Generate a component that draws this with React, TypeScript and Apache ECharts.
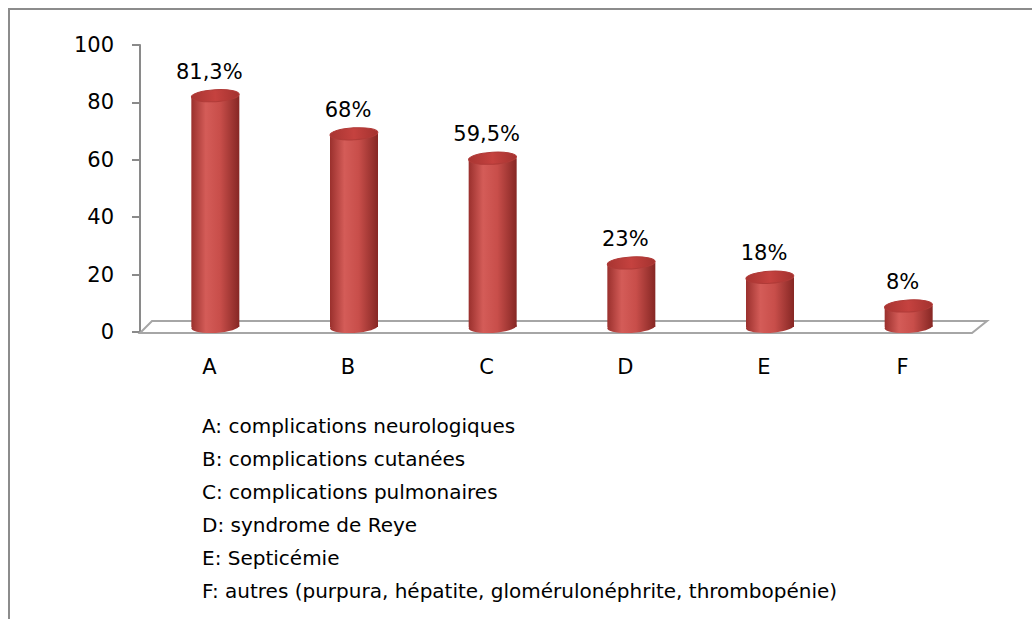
import React, { useEffect, useRef } from "react";
import * as echarts from "echarts";

const categories = ["A", "B", "C", "D", "E", "F"];
const values = [81.3, 68, 59.5, 23, 18, 8];
const valueLabels = ["81,3%", "68%", "59,5%", "23%", "18%", "8%"];
const legendLines = [
  "A: complications neurologiques",
  "B: complications cutanées",
  "C: complications pulmonaires",
  "D: syndrome de Reye",
  "E: Septicémie",
  "F: autres (purpura, hépatite, glomérulonéphrite, thrombopénie)",
];
const yTicks = [0, 20, 40, 60, 80, 100];

const FONT = "DejaVu Sans";
const FS = 21;

export default function App() {
  const ref = useRef<HTMLDivElement>(null);
  useEffect(() => {
    if (!ref.current) return;
    const chart = echarts.init(ref.current, null, { renderer: "svg" });
    const bodyGrad = () =>
      new echarts.graphic.LinearGradient(0, 0, 1, 0, [
        { offset: 0, color: "#9a302d" },
        { offset: 0.3, color: "#d45c58" },
        { offset: 0.6, color: "#c84e4a" },
        { offset: 1, color: "#862724" },
      ]);
    const option: any = {
      animation: false,
      backgroundColor: "#ffffff",
      grid: { left: 140, right: 60, top: 45, bottom: 287, containLabel: false },
      xAxis: {
        type: "category",
        data: categories,
        axisLine: { show: false },
        axisTick: { show: false },
        axisLabel: { color: "#000", fontFamily: FONT, fontSize: FS, margin: 24 },
      },
      yAxis: {
        type: "value",
        min: yTicks[0],
        max: yTicks[yTicks.length - 1],
        interval: 20,
        axisLine: { show: true, lineStyle: { color: "#8a8a8a", width: 2 } },
        axisTick: { show: true, length: 8, lineStyle: { color: "#8a8a8a", width: 2 } },
        splitLine: { show: false },
        axisLabel: { color: "#000", fontFamily: FONT, fontSize: FS, margin: 26 },
      },
      graphic: [
        {
          type: "polyline",
          shape: { points: [[9, 619], [9, 9], [1032, 9]] },
          style: { stroke: "#8c8c8c", lineWidth: 2, fill: "none" },
          z: 0,
        },
        ...legendLines.map((t, i) => ({
          type: "text",
          left: 202,
          top: 416 + i * 33,
          style: { text: t, fontFamily: FONT, fontSize: 20, fill: "#000" },
        })),
      ],
      series: [
        {
          type: "custom",
          z: 1,
          data: [0],
          renderItem: (params: any, api: any) => {
            const cs = params.coordSys;
            const x0 = cs.x;
            const y0 = cs.y + cs.height + 1;
            const w = cs.width;
            return {
              type: "polygon",
              shape: {
                points: [
                  [x0, y0],
                  [x0 + w, y0],
                  [x0 + w + 15, y0 - 12],
                  [x0 + 12, y0 - 12],
                ],
              },
              style: { stroke: "#a6a6a6", lineWidth: 2, fill: "#ffffff" },
            };
          },
        },
        {
          type: "custom",
          z: 3,
          data: values.map((v, i) => [i, v]),
          renderItem: (params: any, api: any) => {
            const idx = api.value(0);
            const val = api.value(1);
            const top = api.coord([idx, val]);
            const base = api.coord([idx, 0]);
            const cx = top[0] + 6;
            const ty = top[1] - 3;
            const by = base[1] - 5;
            const rx = 24;
            const ry = 6;
            const rot = 0.06;
            return {
              type: "group",
              children: [
                {
                  type: "ellipse",
                  shape: { cx, cy: by, rx, ry },
                  rotation: rot,
                  originX: cx,
                  originY: by,
                  style: { fill: bodyGrad() },
                },
                {
                  type: "rect",
                  shape: { x: cx - rx, y: ty, width: rx * 2, height: by - ty },
                  style: { fill: bodyGrad() },
                },
                {
                  type: "ellipse",
                  shape: { cx, cy: ty, rx, ry },
                  rotation: rot,
                  originX: cx,
                  originY: ty,
                  style: {
                    fill: new echarts.graphic.LinearGradient(0, 0, 1, 0, [
                      { offset: 0, color: "#a83532" },
                      { offset: 0.5, color: "#c5423f" },
                      { offset: 1, color: "#a3322f" },
                    ]),
                    stroke: "#b03b38",
                    lineWidth: 1,
                  },
                },
                {
                  type: "text",
                  x: top[0],
                  y: ty - 24,
                  style: {
                    text: valueLabels[params.dataIndex],
                    fontFamily: FONT,
                    fontSize: FS,
                    fill: "#000",
                    align: "center",
                    verticalAlign: "middle",
                  },
                },
              ],
            };
          },
        },
      ],
    };
    chart.setOption(option);
    return () => chart.dispose();
  }, []);
  return (
    <div
      ref={ref}
      style={{ position: "fixed", left: 0, top: 0, width: 1032, height: 619 }}
    />
  );
}
